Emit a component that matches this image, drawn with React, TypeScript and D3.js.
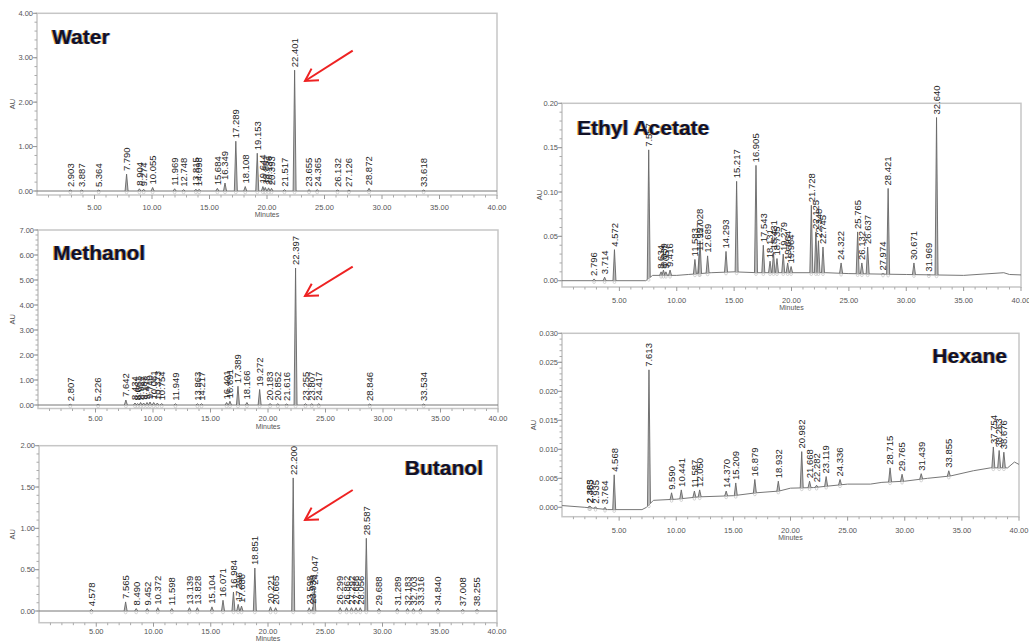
import React, { useEffect, useRef } from "react";
import * as d3 from "d3";

// peaks: [retention time (min), peak height (AU)]
const waterPeaks: [number, number][] = [
  [2.903, 0.02], [3.887, 0.02], [5.364, 0.02], [7.79, 0.38], [8.904, 0.05],
  [9.274, 0.04], [10.055, 0.08], [11.969, 0.05], [12.748, 0.03], [13.815, 0.04],
  [14.098, 0.04], [15.684, 0.06], [16.349, 0.18], [17.289, 1.12], [18.108, 0.1],
  [19.153, 0.85], [19.644, 0.1], [19.851, 0.08], [20.136, 0.07], [20.393, 0.06],
  [21.517, 0.03], [22.401, 2.72], [23.655, 0.03], [24.365, 0.03], [26.132, 0.02],
  [27.126, 0.02], [28.872, 0.06], [33.618, 0.02],
];

const methanolPeaks: [number, number][] = [
  [2.807, 0.03], [5.226, 0.03], [7.642, 0.2], [8.434, 0.08], [8.661, 0.06],
  [8.922, 0.1], [9.187, 0.08], [9.478, 0.1], [9.74, 0.12], [10.061, 0.1],
  [10.373, 0.08], [10.754, 0.06], [11.949, 0.05], [13.863, 0.05], [14.217, 0.05],
  [16.401, 0.1], [16.691, 0.15], [17.389, 0.75], [18.166, 0.1], [19.272, 0.62],
  [20.183, 0.06], [20.852, 0.05], [21.616, 0.04], [22.397, 5.48], [23.255, 0.05],
  [23.807, 0.05], [24.417, 0.05], [28.846, 0.04], [33.534, 0.04],
];

const butanolPeaks: [number, number][] = [
  [4.578, 0.02], [7.565, 0.11], [8.49, 0.03], [9.452, 0.03], [10.372, 0.04],
  [11.598, 0.03], [13.139, 0.04], [13.828, 0.04], [15.104, 0.05], [16.071, 0.13],
  [16.984, 0.23], [17.396, 0.08], [17.686, 0.06], [18.851, 0.52], [20.221, 0.05],
  [20.665, 0.04], [22.2, 1.61], [23.598, 0.04], [23.938, 0.05], [24.047, 0.28],
  [26.299, 0.04], [26.862, 0.04], [27.292, 0.04], [27.686, 0.04], [28.056, 0.04],
  [28.587, 0.88], [29.688, 0.03], [31.289, 0.03], [32.183, 0.03], [32.703, 0.03],
  [33.316, 0.03], [34.84, 0.03], [37.008, 0.02], [38.255, 0.02],
];

const ethylAcetatePeaks: [number, number][] = [
  [2.796, 0.002], [3.714, 0.004], [4.572, 0.035], [7.557, 0.1475], [8.634, 0.01],
  [8.839, 0.012], [9.057, 0.01], [9.416, 0.012], [11.583, 0.024], [11.957, 0.03],
  [12.028, 0.045], [12.689, 0.028], [14.293, 0.033], [15.217, 0.112], [16.905, 0.13],
  [17.543, 0.04], [18.131, 0.022], [18.431, 0.032], [18.735, 0.025], [19.279, 0.03],
  [19.664, 0.02], [19.964, 0.016], [21.728, 0.085], [22.125, 0.055], [22.348, 0.045],
  [22.745, 0.038], [24.322, 0.02], [25.765, 0.055], [26.132, 0.02], [26.637, 0.038],
  [27.974, 0.008], [28.421, 0.104], [30.671, 0.02], [31.969, 0.006], [32.64, 0.184],
];

const hexanePeaks: [number, number][] = [
  [2.383, 0.0002], [2.465, 0.0002], [2.935, 0.0001], [3.764, 0.0], [4.568, 0.0056],
  [7.613, 0.0237], [9.59, 0.0025], [10.441, 0.003], [11.587, 0.0028], [12.05, 0.003],
  [14.37, 0.0028], [15.209, 0.0042], [16.879, 0.0048], [18.932, 0.0045], [20.982, 0.0096],
  [21.668, 0.0045], [22.282, 0.0038], [23.119, 0.0053], [24.336, 0.0048], [28.715, 0.0068],
  [29.765, 0.0057], [31.439, 0.0058], [33.855, 0.0063], [37.754, 0.0104], [38.263, 0.0098],
  [38.676, 0.0095],
];

// baseline drift: [time (min), AU]
const flatBaseline: [number, number][] = [[0, 0], [40, 0]];
const ethylAcetateBaseline: [number, number][] = [
  [0, 0], [7.3, 0], [7.9, 0.006], [10, 0.006], [11, 0.007], [13, 0.009], [15, 0.01],
  [17, 0.009], [20, 0.009], [23, 0.009], [25, 0.008], [30, 0.007], [35, 0.006],
  [38.5, 0.009], [39, 0.007], [40, 0.0065],
];
const hexaneBaseline: [number, number][] = [
  [0, 0.0003], [2, 0], [4, -0.0004], [7, -0.0004], [7.4, 0], [8, 0.0012], [10, 0.0014],
  [12, 0.0018], [15, 0.002], [17, 0.0025], [19, 0.0028], [20, 0.0033], [22, 0.0034],
  [25, 0.004], [27, 0.004], [28, 0.0043], [30, 0.0045], [32, 0.005], [34, 0.0054],
  [36, 0.0063], [37.5, 0.0068], [39, 0.0068], [39.6, 0.0078], [40, 0.0074],
];

const minuteTicks = [5, 10, 15, 20, 25, 30, 35, 40];

const panels = [
  {
    name: "Water", peaks: waterPeaks, baseline: flatBaseline,
    left: 37, right: 497, top: 13.3, zeroY: 191, bottom: 195,
    xLabY: 209.5, minY: 216.5,
    yMax: 4, yStep: 1, fmt: ".2f", auX: 12,
    title: { x: 52, y: 44, anchor: "start" },
    arrow: { x1: 352.7, y1: 50.7, x2: 305, y2: 81 },
  },
  {
    name: "Methanol", peaks: methanolPeaks, baseline: flatBaseline,
    left: 38, right: 498, top: 230, zeroY: 405, bottom: 408.5,
    xLabY: 420.5, minY: 428.5,
    yMax: 7, yStep: 1, fmt: ".2f", auX: 12,
    title: { x: 53, y: 260, anchor: "start" },
    arrow: { x1: 352.7, y1: 266.7, x2: 305, y2: 296 },
  },
  {
    name: "Butanol", peaks: butanolPeaks, baseline: flatBaseline,
    left: 39, right: 497, top: 445.7, zeroY: 611, bottom: 622.7,
    xLabY: 634, minY: 640.5,
    yMax: 2, yStep: 0.5, fmt: ".2f", auX: 12,
    title: { x: 483, y: 475, anchor: "end" },
    arrow: { x1: 352.7, y1: 490, x2: 305, y2: 520 },
  },
  {
    name: "Ethyl Acetate", peaks: ethylAcetatePeaks, baseline: ethylAcetateBaseline,
    left: 562, right: 1021, top: 103.3, zeroY: 280.7, bottom: 287,
    xLabY: 303, minY: 310,
    yMax: 0.2, yStep: 0.05, fmt: ".2f", auX: 539,
    title: { x: 577, y: 135, anchor: "start" },
    arrow: null,
  },
  {
    name: "Hexane", peaks: hexanePeaks, baseline: hexaneBaseline,
    left: 562, right: 1019, top: 333.3, zeroY: 507.3, bottom: 516.7,
    xLabY: 532.5, minY: 540,
    yMax: 0.03, yStep: 0.005, fmt: ".3f", auX: 533,
    title: { x: 1007, y: 363, anchor: "end" },
    arrow: null,
  },
];

const FONT = "'Liberation Sans', Arial, sans-serif";

function drawPanel(svg: any, p: any) {
  const g = svg.append("g");
  const x = d3.scaleLinear().domain([0, 40]).range([p.left, p.right]);
  const y = d3.scaleLinear().domain([0, p.yMax]).range([p.zeroY, p.top]);
  const base = d3
    .scaleLinear()
    .domain(p.baseline.map((d: number[]) => d[0]))
    .range(p.baseline.map((d: number[]) => d[1]))
    .clamp(true);

  // frame
  g.append("rect")
    .attr("x", p.left)
    .attr("y", p.top)
    .attr("width", p.right - p.left)
    .attr("height", p.bottom - p.top)
    .attr("fill", "none")
    .attr("stroke", "#c6c6c6")
    .attr("stroke-width", 1.5);

  // x axis ticks
  const xMinor = d3.range(1, 40).filter((v) => v % 5 !== 0);
  g.selectAll(".xminor")
    .data(xMinor)
    .enter()
    .append("line")
    .attr("x1", (d: number) => x(d))
    .attr("x2", (d: number) => x(d))
    .attr("y1", p.bottom)
    .attr("y2", p.bottom + 2.5)
    .attr("stroke", "#aaa");
  g.selectAll(".xmajor")
    .data(minuteTicks)
    .enter()
    .append("line")
    .attr("x1", (d: number) => x(d))
    .attr("x2", (d: number) => x(d))
    .attr("y1", p.bottom)
    .attr("y2", p.bottom + 4)
    .attr("stroke", "#999");
  g.selectAll(".xlab")
    .data(minuteTicks)
    .enter()
    .append("text")
    .attr("x", (d: number) => x(d))
    .attr("y", p.xLabY)
    .attr("text-anchor", "middle")
    .attr("font-family", FONT)
    .attr("font-size", 7.5)
    .attr("fill", "#555")
    .text((d: number) => d3.format(".2f")(d));
  g.append("text")
    .attr("x", (p.left + p.right) / 2)
    .attr("y", p.minY)
    .attr("text-anchor", "middle")
    .attr("font-family", FONT)
    .attr("font-size", 7)
    .attr("fill", "#555")
    .text("Minutes");

  // y axis ticks
  const yMajor = d3.range(0, p.yMax + p.yStep / 2, p.yStep);
  const yMinor = d3
    .range(0, p.yMax + p.yStep / 10, p.yStep / 5)
    .filter((v) => y(v) <= p.bottom);
  g.selectAll(".yminor")
    .data(yMinor)
    .enter()
    .append("line")
    .attr("x1", p.left - 2.5)
    .attr("x2", p.left)
    .attr("y1", (d: number) => y(d))
    .attr("y2", (d: number) => y(d))
    .attr("stroke", "#aaa");
  g.selectAll(".ymajor")
    .data(yMajor)
    .enter()
    .append("line")
    .attr("x1", p.left - 4)
    .attr("x2", p.left)
    .attr("y1", (d: number) => y(d))
    .attr("y2", (d: number) => y(d))
    .attr("stroke", "#999");
  g.selectAll(".ylab")
    .data(yMajor)
    .enter()
    .append("text")
    .attr("x", p.left - 4)
    .attr("y", (d: number) => y(d))
    .attr("dy", "0.35em")
    .attr("text-anchor", "end")
    .attr("font-family", FONT)
    .attr("font-size", 7.5)
    .attr("fill", "#555")
    .text((d: number) => d3.format(p.fmt)(d));
  g.append("text")
    .attr("transform", `translate(${p.auX},${(p.top + p.bottom) / 2}) rotate(-90)`)
    .attr("text-anchor", "middle")
    .attr("dy", "0.35em")
    .attr("font-family", FONT)
    .attr("font-size", 7.5)
    .attr("fill", "#555")
    .text("AU");

  // trace: baseline plus one spike per peak
  const line = d3
    .line<number[]>()
    .x((d) => x(d[0]))
    .y((d) => y(d[1]));
  g.append("path")
    .attr("d", line(p.baseline))
    .attr("fill", "none")
    .attr("stroke", "#777")
    .attr("stroke-width", 1);
  const hw = 0.13;
  g.selectAll(".peak")
    .data(p.peaks)
    .enter()
    .append("path")
    .attr("d", (d: number[]) =>
      line([
        [d[0] - hw, base(d[0] - hw)],
        [d[0], Math.max(d[1], base(d[0]))],
        [d[0] + hw, base(d[0] + hw)],
      ])
    )
    .attr("fill", "#bbb")
    .attr("stroke", "#666")
    .attr("stroke-width", 0.9);

  // small integration marks on baseline
  g.selectAll(".mark")
    .data(p.peaks)
    .enter()
    .append("circle")
    .attr("cx", (d: number[]) => x(d[0]))
    .attr("cy", (d: number[]) => y(base(d[0])) + 1.5)
    .attr("r", 1.3)
    .attr("fill", "none")
    .attr("stroke", "#bbb")
    .attr("stroke-width", 0.6);

  // peak labels
  g.selectAll(".plab")
    .data(p.peaks)
    .enter()
    .append("text")
    .attr(
      "transform",
      (d: number[]) =>
        `translate(${x(d[0])},${y(Math.max(d[1], base(d[0]))) - 3}) rotate(-90)`
    )
    .attr("dy", "0.35em")
    .attr("font-family", FONT)
    .attr("font-size", 9.5)
    .attr("fill", "#262626")
    .text((d: number[]) => d3.format(".3f")(d[0]));

  // title with a little colour fringe like the scanned original
  const t = p.title;
  [
    { dx: -0.9, fill: "#e39a2a", op: 0.85 },
    { dx: 0.9, fill: "#3a6fd0", op: 0.6 },
    { dx: 0, fill: "#121226", op: 1 },
  ].forEach((s) => {
    g.append("text")
      .attr("x", t.x + s.dx)
      .attr("y", t.y)
      .attr("text-anchor", t.anchor)
      .attr("font-family", FONT)
      .attr("font-weight", "bold")
      .attr("font-size", 21)
      .attr("fill", s.fill)
      .attr("opacity", s.op)
      .text(p.name);
  });

  if (p.arrow) {
    const a = p.arrow;
    const ang = Math.atan2(a.y1 - a.y2, a.x1 - a.x2);
    const len = 14;
    const b1 = [a.x2 + len * Math.cos(ang - 0.52), a.y2 + len * Math.sin(ang - 0.52)];
    const b2 = [a.x2 + len * Math.cos(ang + 0.52), a.y2 + len * Math.sin(ang + 0.52)];
    g.append("line")
      .attr("x1", a.x1)
      .attr("y1", a.y1)
      .attr("x2", a.x2)
      .attr("y2", a.y2)
      .attr("stroke", "#ee2222")
      .attr("stroke-width", 2);
    g.append("path")
      .attr("d", `M${b1[0]},${b1[1]}L${a.x2},${a.y2}L${b2[0]},${b2[1]}`)
      .attr("fill", "none")
      .attr("stroke", "#ee2222")
      .attr("stroke-width", 2);
  }
}

export default function App() {
  const ref = useRef<SVGSVGElement>(null);
  useEffect(() => {
    const svg = d3.select(ref.current);
    svg.selectAll("*").remove();
    panels.forEach((p) => drawPanel(svg, p));
  }, []);
  return (
    <svg
      ref={ref}
      width={1029}
      height={641}
      style={{ position: "absolute", left: 0, top: 0, background: "#fff" }}
    />
  );
}
